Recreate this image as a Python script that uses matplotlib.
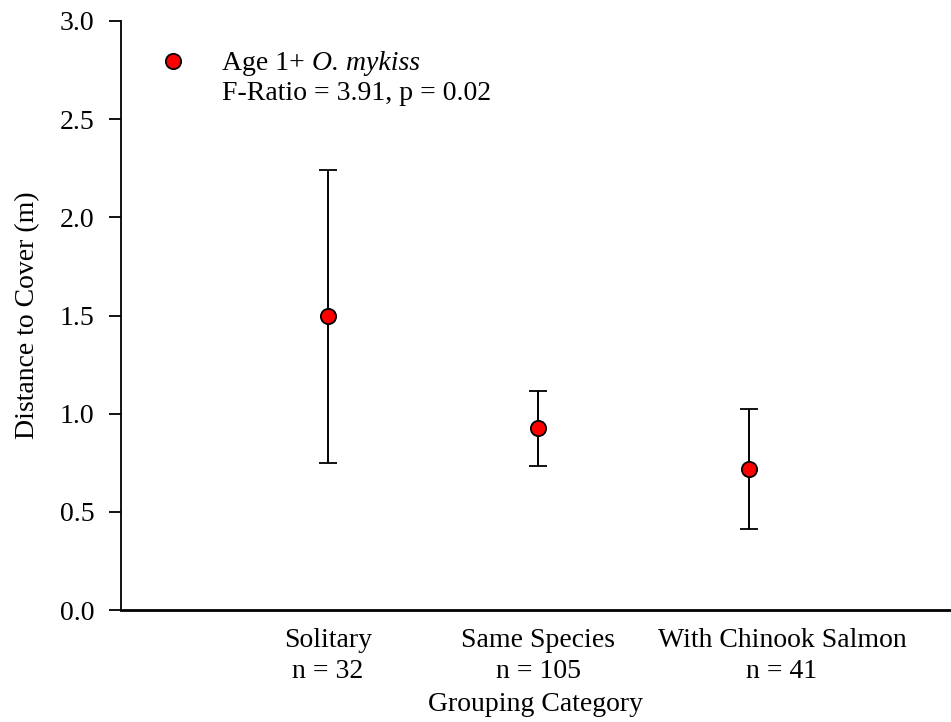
import matplotlib
matplotlib.use("Agg")
import matplotlib.pyplot as plt
from matplotlib.transforms import ScaledTranslation

plt.rcParams['font.family'] = ['Liberation Serif', 'DejaVu Serif']

# Grouping categories and sample sizes
categories = ["Solitary", "Same Species", "With Chinook Salmon"]
sample_sizes = [32, 105, 41]

# Mean distance to cover (m) with interval bounds
means = [1.50, 0.925, 0.72]
upper = [2.24, 1.115, 1.025]
lower = [0.75, 0.735, 0.415]

y_ticks = [0.0, 0.5, 1.0, 1.5, 2.0, 2.5, 3.0]

W, H = 951, 722
fig = plt.figure(figsize=(W / 100, H / 100), dpi=100)
ax = fig.add_axes([121 / W, (722 - 610) / H, (951 - 121) / W, (610 - 21) / H])

xpos = list(range(1, len(categories) + 1))
yerr = [[m - lo for m, lo in zip(means, lower)], [up - m for m, up in zip(means, upper)]]
ax.errorbar(xpos, means, yerr=yerr, fmt='o', color='black', ecolor='black',
            elinewidth=1.4, capsize=6.5, capthick=1.4,
            markerfacecolor='#ff0000', markeredgecolor='black',
            markeredgewidth=1.3, markersize=11, zorder=3)

ax.set_xlim(0.017, 3.96)
ax.set_ylim(0, 3.0)
ax.set_yticks(y_ticks)
ax.set_yticklabels([f"{v:.1f}" for v in y_ticks], fontsize=20)
ax.set_xticks(xpos)
ax.set_xticklabels([f"{c}\nn = {n}" for c, n in zip(categories, sample_sizes)],
                   fontsize=20, linespacing=1.32)
ax.tick_params(axis='x', length=0, pad=13)
ax.tick_params(axis='y', direction='out', length=9, width=1.3, pad=10)

# the long last label sits a little to the right of its group
last = ax.get_xticklabels()[-1]
last.set_transform(last.get_transform() + ScaledTranslation(0.33, 0, fig.dpi_scale_trans))

for s in ['top', 'right']:
    ax.spines[s].set_visible(False)
ax.spines['left'].set_linewidth(1.3)
ax.spines['bottom'].set_linewidth(2.0)

ax.set_ylabel("Distance to Cover (m)", fontsize=20, labelpad=14)
ax.set_xlabel("Grouping Category", fontsize=20, labelpad=5.5)

# Legend entry with statistics
ax.plot([0.264], [2.796], 'o', markerfacecolor='#ff0000', markeredgecolor='black',
        markeredgewidth=1.3, markersize=11, clip_on=False, zorder=3)
t1 = ax.text(0.497, 2.750, "Age 1+ ", fontsize=20, va='baseline', ha='left')
ax.annotate("O. mykiss", xy=(1, 0), xycoords=t1, fontsize=20, style='italic',
            va='bottom', ha='left')
ax.text(0.497, 2.597, "F-Ratio = 3.91, p = 0.02", fontsize=20,
        va='baseline', ha='left')

fig.savefig("out.png", dpi=100)
